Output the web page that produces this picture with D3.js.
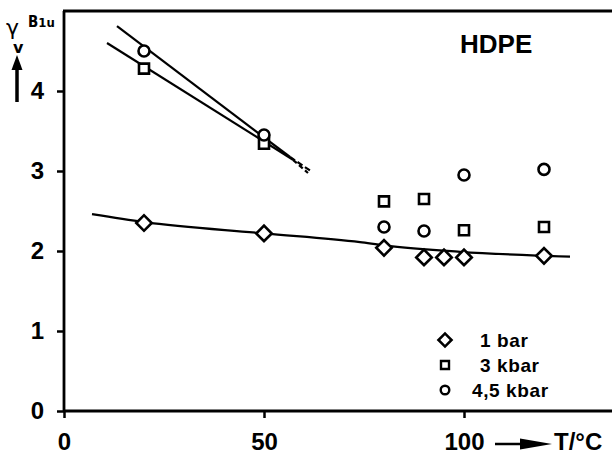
<!DOCTYPE html>
<html>
<head>
<meta charset="utf-8">
<script src="https://cdn.jsdelivr.net/npm/d3@7"></script>
<style>
  body { margin: 0; background: #fff; }
  svg text { fill: #000; }
  .tick-label { font-family: "Liberation Sans", Arial, sans-serif; font-weight: bold; font-size: 24px; }
  .legend-label { font-family: "Liberation Sans", Arial, sans-serif; font-weight: bold; font-size: 19px; letter-spacing: 0.6px; }
</style>
</head>
<body>
<svg id="chart" width="612" height="455"></svg>
<script>
// measured points, T in °C, gamma_v
const bar1T = [20, 50, 80, 90, 95, 100, 120];
const bar1V = [2.35, 2.22, 2.04, 1.92, 1.92, 1.92, 1.94];
const kbar3T = [20, 50, 80, 90, 100, 120];
const kbar3V = [4.28, 3.34, 2.62, 2.65, 2.26, 2.30];
const kbar45T = [20, 50, 80, 90, 100, 120];
const kbar45V = [4.50, 3.45, 2.30, 2.25, 2.95, 3.02];

// drawn curves
const curve1barT = [7, 20, 50, 74, 80, 99, 126.5];
const curve1barV = [2.46, 2.36, 2.22, 2.11, 2.07, 1.99, 1.93];
const line3kbarT = [10.75, 57.25];
const line3kbarV = [4.60, 3.14];
const dash3kbarT = [57.25, 61];
const dash3kbarV = [3.14, 2.975];
const line45kbarT = [13.25, 56.5];
const line45kbarV = [4.81, 3.175];
const dash45kbarT = [56.5, 62];
const dash45kbarV = [3.175, 2.99];

const xTicks = [0, 50, 100];
const yTicks = [0, 1, 2, 3, 4];
const legendLabels = ["1 bar", "3 kbar", "4,5 kbar"];

const zip = (a, b) => a.map((d, i) => [d, b[i]]);

const svg = d3.select("#chart");
const x = d3.scaleLinear().domain([0, 137]).range([64, 612]);
const y = d3.scaleLinear().domain([0, 5]).range([411, 11]);

// axes
const yAxis = d3.axisLeft(y).tickValues(yTicks).tickSize(7).tickPadding(13).tickFormat(d3.format("d"));
const yAxisG = svg.append("g").attr("transform", `translate(${x(0)},0)`).call(yAxis);
const xAxis = d3.axisBottom(x).tickValues(xTicks).tickSize(7).tickPadding(14).tickFormat(d3.format("d"));
const xAxisG = svg.append("g").attr("transform", `translate(0,${y(0)})`).call(xAxis);

[yAxisG, xAxisG].forEach(g => {
  g.select(".domain").remove();
  g.selectAll(".tick line").attr("stroke", "#000").attr("stroke-width", 2.5);
  g.selectAll(".tick text").attr("class", "tick-label").attr("font-size", null).attr("font-family", null);
});
xAxisG.selectAll(".tick text").attr("y", 39).attr("dy", null);

// frame: left, top, bottom (no right side)
const frame = svg.append("g").attr("stroke", "#000").attr("stroke-width", 2.8).attr("fill", "none");
frame.append("line").attr("x1", x(0)).attr("x2", x(0)).attr("y1", y(5)).attr("y2", y(0));
frame.append("line").attr("x1", x(0) - 1).attr("x2", x(137)).attr("y1", y(5)).attr("y2", y(5));
frame.append("line").attr("x1", x(0)).attr("x2", x(137)).attr("y1", y(0)).attr("y2", y(0));

// lines
const line = d3.line().x(d => x(d[0])).y(d => y(d[1]));
const g = svg.append("g").attr("fill", "none").attr("stroke", "#000").attr("stroke-width", 2.2);
g.append("path").attr("d", line.curve(d3.curveMonotoneX)(zip(curve1barT, curve1barV)));
line.curve(d3.curveLinear);
g.append("path").attr("d", line(zip(line3kbarT, line3kbarV)));
g.append("path").attr("d", line(zip(line45kbarT, line45kbarV)));
g.append("path").attr("d", line(zip(dash3kbarT, dash3kbarV))).attr("stroke-dasharray", "5,3");
g.append("path").attr("d", line(zip(dash45kbarT, dash45kbarV))).attr("stroke-dasharray", "6,3");

// markers
const diamond = d3.symbol().type(d3.symbolSquare).size(120);
const square = d3.symbol().type(d3.symbolSquare).size(100);
const marks = svg.append("g").attr("fill", "#fff").attr("stroke", "#000").attr("stroke-width", 2.6);

marks.selectAll(".d1").data(zip(bar1T, bar1V)).join("path")
  .attr("class", "d1")
  .attr("d", diamond)
  .attr("transform", d => `translate(${x(d[0])},${y(d[1])}) rotate(45)`);
marks.selectAll(".s3").data(zip(kbar3T, kbar3V)).join("path")
  .attr("class", "s3")
  .attr("d", square)
  .attr("transform", d => `translate(${x(d[0])},${y(d[1])})`);
marks.selectAll(".c45").data(zip(kbar45T, kbar45V)).join("circle")
  .attr("class", "c45")
  .attr("cx", d => x(d[0])).attr("cy", d => y(d[1])).attr("r", 5.5);

// legend
const legend = svg.append("g");
const legY = [340, 365, 390];
legend.append("path").attr("d", d3.symbol().type(d3.symbolSquare).size(85)())
  .attr("transform", `translate(445,${legY[0]}) rotate(45)`)
  .attr("fill", "#fff").attr("stroke", "#000").attr("stroke-width", 2.6);
legend.append("path").attr("d", d3.symbol().type(d3.symbolSquare).size(64)())
  .attr("transform", `translate(445,${legY[1]})`)
  .attr("fill", "#fff").attr("stroke", "#000").attr("stroke-width", 2.4);
legend.append("circle").attr("cx", 445).attr("cy", legY[2]).attr("r", 4.3)
  .attr("fill", "#fff").attr("stroke", "#000").attr("stroke-width", 2.4);
legend.selectAll("text").data(legendLabels).join("text")
  .attr("class", "legend-label")
  .attr("x", (d, i) => i === 2 ? 472 : 480)
  .attr("y", (d, i) => legY[i] + 7)
  .text(d => d);

// title
svg.append("text").attr("x", 460).attr("y", 53)
  .attr("font-family", "Liberation Sans, Arial, sans-serif").attr("font-weight", "bold").attr("font-size", 26)
  .text("HDPE");

// y label: gamma_v ^ B1u with up arrow
const yl = svg.append("g");
yl.append("text").attr("x", 6).attr("y", 35).attr("font-family", "DejaVu Sans, sans-serif").attr("font-size", 22).text("γ");
yl.append("text").attr("x", 13).attr("y", 53).attr("font-family", "DejaVu Sans, sans-serif").attr("font-weight", "bold").attr("font-size", 16).text("v");
yl.append("text").attr("x", 28).attr("y", 27).attr("font-family", "DejaVu Sans Condensed, sans-serif").attr("font-weight", "bold").attr("font-size", 15)
  .text("B").append("tspan").attr("font-size", 13).text("1u");
yl.append("line").attr("x1", 17).attr("x2", 17).attr("y1", 66).attr("y2", 102).attr("stroke", "#000").attr("stroke-width", 3.5);
yl.append("path").attr("d", "M17,55 L11.5,70 L22.5,70 Z").attr("fill", "#000");

// x label: arrow and T/°C
const xl = svg.append("g");
xl.append("line").attr("x1", 495).attr("x2", 530).attr("y1", 444).attr("y2", 444).attr("stroke", "#000").attr("stroke-width", 2.5);
xl.append("path").attr("d", "M552,444 L520,438.5 L520,449.5 Z").attr("fill", "#000");
xl.append("text").attr("class", "tick-label").attr("x", 554).attr("y", 450).attr("font-size", 25).text("T/°C");
</script>
</body>
</html>
